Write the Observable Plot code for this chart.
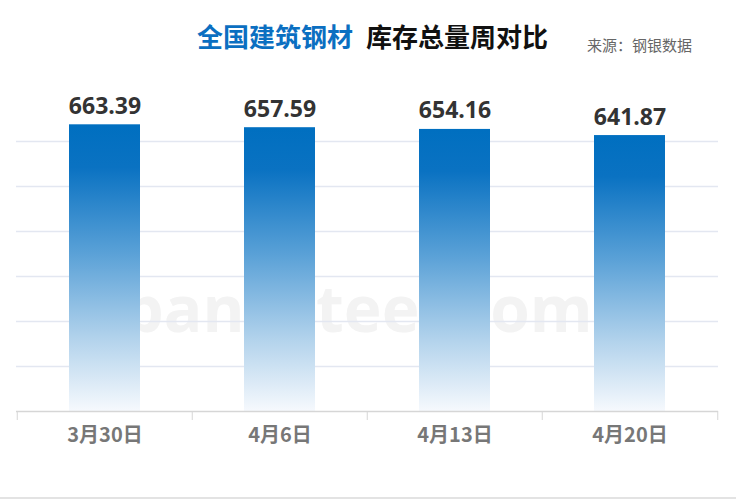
<!DOCTYPE html>
<html><head><meta charset="utf-8">
<script src="https://cdn.jsdelivr.net/npm/d3@7"></script>
<script src="https://cdn.jsdelivr.net/npm/@observablehq/plot@0.6"></script>
<style>
body{margin:0;background:#fff;}
#wrap{position:relative;width:736px;height:500px;overflow:hidden;background:#fff;font-family:"Noto Sans CJK SC","Open Sans",sans-serif;}
#header{position:relative;height:70px;}
#title{position:absolute;left:197px;top:23px;font-size:26px;font-weight:bold;line-height:1;white-space:nowrap;}
#title .blue{color:#0b6fc1;}
#title .black{color:#111;margin-left:13px;}
#source{position:absolute;left:587px;top:37px;font-size:15px;line-height:1;color:#666;white-space:nowrap;}
#bottomline{position:absolute;left:0;top:497px;width:736px;height:2px;background:#e3e3e3;}
</style>
</head><body>
<div id="wrap">
  <div id="header">
    <div id="title"><span class="blue">全国建筑钢材</span><span class="black">库存总量周对比</span></div>
    <div id="source">来源：钢银数据</div>
  </div>
  <div id="chart"></div>
  <div id="bottomline"></div>
</div>
<script>
const categories = ["3月30日", "4月6日", "4月13日", "4月20日"];
const values = [663.39, 657.59, 654.16, 641.87];
const gridTicks = [180, 270, 360, 450, 540, 630];
const yMin = 90, yMax = 720;

const data = categories.map((c, i) => ({date: c, value: values[i]}));
const halfBand = (736 - 16 - 18) / categories.length / 2;

const chart = Plot.plot({
  width: 736,
  height: 430,
  marginTop: 26,
  marginBottom: 89,
  marginLeft: 16,
  marginRight: 18,
  x: {domain: categories, padding: 0, axis: null, label: null},
  y: {domain: [yMin, yMax], axis: null},
  marks: [
    Plot.gridY(gridTicks, {stroke: "#e3e7f1", strokeOpacity: 1, strokeWidth: 1.5}),
    Plot.barY(data, {x: "date", y1: yMin, y2: "value", fill: "url(#barGrad)", insetLeft: 52, insetRight: 52}),
    Plot.ruleY([yMin], {stroke: "#d6d6d6", strokeWidth: 1.5}),
    Plot.ruleX(categories, {x: d => d, y1: yMin, y2: yMin - 18, dx: -halfBand, stroke: "#d6d6d6"}),
    Plot.ruleX(categories.slice(-1), {x: d => d, y1: yMin, y2: yMin - 18, dx: halfBand, stroke: "#d6d6d6"}),
    Plot.text(data, {x: "date", y: "value", text: d => d.value.toFixed(2), lineAnchor: "bottom", dy: -11,
      fontSize: 23, fontWeight: "bold", fill: "#333", fontFamily: "Open Sans"}),
    Plot.axisX({tickSize: 0, tickPadding: 16, fontSize: 20, fontWeight: "bold", color: "#777",
      fontFamily: "Noto Sans CJK SC", label: null})
  ]
});

chart.insertAdjacentHTML("afterbegin", `
<defs>
  <linearGradient id="barGrad" x1="0" y1="0" x2="0" y2="1">
    <stop offset="0" stop-color="#006fc0"/>
    <stop offset="0.15" stop-color="#0a72c2"/>
    <stop offset="0.45" stop-color="#5aa1d7"/>
    <stop offset="0.75" stop-color="#b3d3ec"/>
    <stop offset="1" stop-color="#f6f9fd"/>
  </linearGradient>
</defs>
<g fill="#f3f3f3" font-family="Open Sans, sans-serif" font-weight="bold">
  <text x="358" y="262" text-anchor="middle" font-size="64">banksteel.com</text>
</g>`);

document.getElementById("chart").appendChild(chart);
</script>
</body></html>
